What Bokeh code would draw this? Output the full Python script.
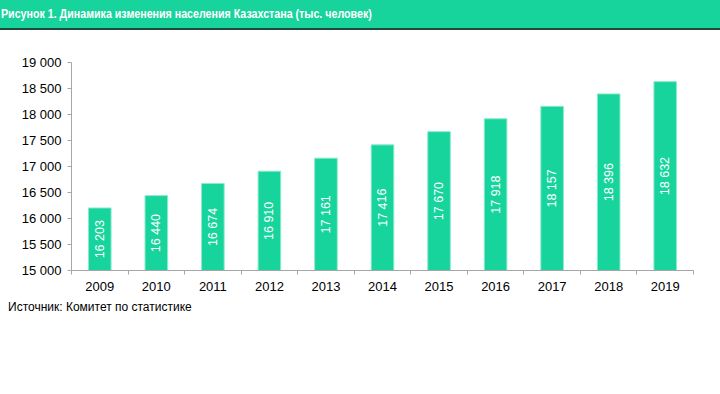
from bokeh.plotting import figure
from bokeh.layouts import column
from bokeh.models import Range1d, FixedTicker, ColumnDataSource, Div
from bokeh.embed import file_html
from bokeh.resources import INLINE
from bokeh.core.properties import value

years = ["2009", "2010", "2011", "2012", "2013", "2014", "2015", "2016", "2017", "2018", "2019"]
population = [16203, 16440, 16674, 16910, 17161, 17416, 17670, 17918, 18157, 18396, 18632]
y_ticks = [15000, 15500, 16000, 16500, 17000, 17500, 18000, 18500, 19000]
title_text = "Рисунок 1. Динамика изменения населения Казахстана (тыс. человек)"
source_text = "Источник: Комитет по статистике"

GREEN = "#16D49C"
W, H = 720, 394
HEAD_H = 30
MAIN_H = 268
FOOT_H = H - HEAD_H - MAIN_H
FL, FR = 71, 693
FT, FB = 62 - HEAD_H, 270 - HEAD_H


def fmt(v):
    return f"{v:,}".replace(",", " ")


# header
head = Div(
    text=('<span style="display:inline-block;transform:scaleX(0.82);'
          'transform-origin:0 50%;white-space:nowrap">' + title_text + '</span>'),
    width=W, height=HEAD_H,
    styles={"background-color": GREEN, "color": "white",
            "font-family": "Liberation Sans, Arial, sans-serif",
            "font-weight": "bold", "font-size": "13px",
            "line-height": "28px", "padding-left": "1px",
            "border-bottom": "2px solid #1F4A3A", "box-sizing": "border-box",
            "overflow": "hidden", "margin": "0"})

# main chart
base = y_ticks[0]
xs = list(range(len(years)))
src = ColumnDataSource(dict(
    x=xs, top=population,
    mid=[(base + v) / 2 for v in population],
    lab=[fmt(v) for v in population],
))

p = figure(width=W, height=MAIN_H, output_backend="svg", toolbar_location=None,
           x_range=Range1d(-0.5, len(years) - 0.5),
           y_range=Range1d(y_ticks[0], y_ticks[-1]),
           min_border_left=FL, min_border_right=W - FR,
           min_border_top=FT, min_border_bottom=MAIN_H - FB)
p.outline_line_color = None
p.grid.visible = False
p.background_fill_color = "white"
p.border_fill_color = "white"

p.vbar(x="x", top="top", bottom=base, width=0.4, source=src,
       fill_color=GREEN, line_color="#8EEACB", line_width=1)
p.text(x="x", y="mid", text="lab", source=src, angle=1.5708,
       text_align="center", text_baseline="middle", text_color="white",
       text_font=value("Liberation Sans"), text_font_size="12.5px")

xa = p.xaxis[0]
xa.ticker = FixedTicker(ticks=xs, minor_ticks=[i - 0.5 for i in range(len(years) + 1)])
xa.major_label_overrides = {i: y for i, y in zip(xs, years)}
xa.major_tick_line_color = None
xa.minor_tick_in = 0
xa.minor_tick_out = 4
xa.minor_tick_line_color = "#A6A6A6"
xa.axis_line_color = "#A6A6A6"
xa.major_label_text_font = "Liberation Sans"
xa.major_label_text_font_size = "13px"
xa.major_label_text_color = "#000000"
xa.major_label_standoff = 5

ya = p.yaxis[0]
ya.ticker = FixedTicker(ticks=y_ticks)
ya.major_label_overrides = {t: fmt(t) for t in y_ticks}
ya.major_tick_in = 0
ya.major_tick_out = 4
ya.major_tick_line_color = "#A6A6A6"
ya.minor_tick_line_color = None
ya.axis_line_color = "#A6A6A6"
ya.major_label_text_font = "Liberation Sans"
ya.major_label_text_font_size = "13px"
ya.major_label_text_color = "#000000"
ya.major_label_standoff = 6

# footer
foot = Div(text=source_text, width=W, height=FOOT_H,
           styles={"color": "black", "font-family": "Liberation Sans, Arial, sans-serif",
                   "font-size": "12px", "line-height": "18px",
                   "padding-left": "8px", "box-sizing": "border-box", "margin": "0"})

layout = column(head, p, foot, spacing=0)
html = file_html(layout, INLINE)
html = html.replace("<head>", "<head><style>body{margin:0;}</style>", 1)
open("out.html", "w").write(html)
